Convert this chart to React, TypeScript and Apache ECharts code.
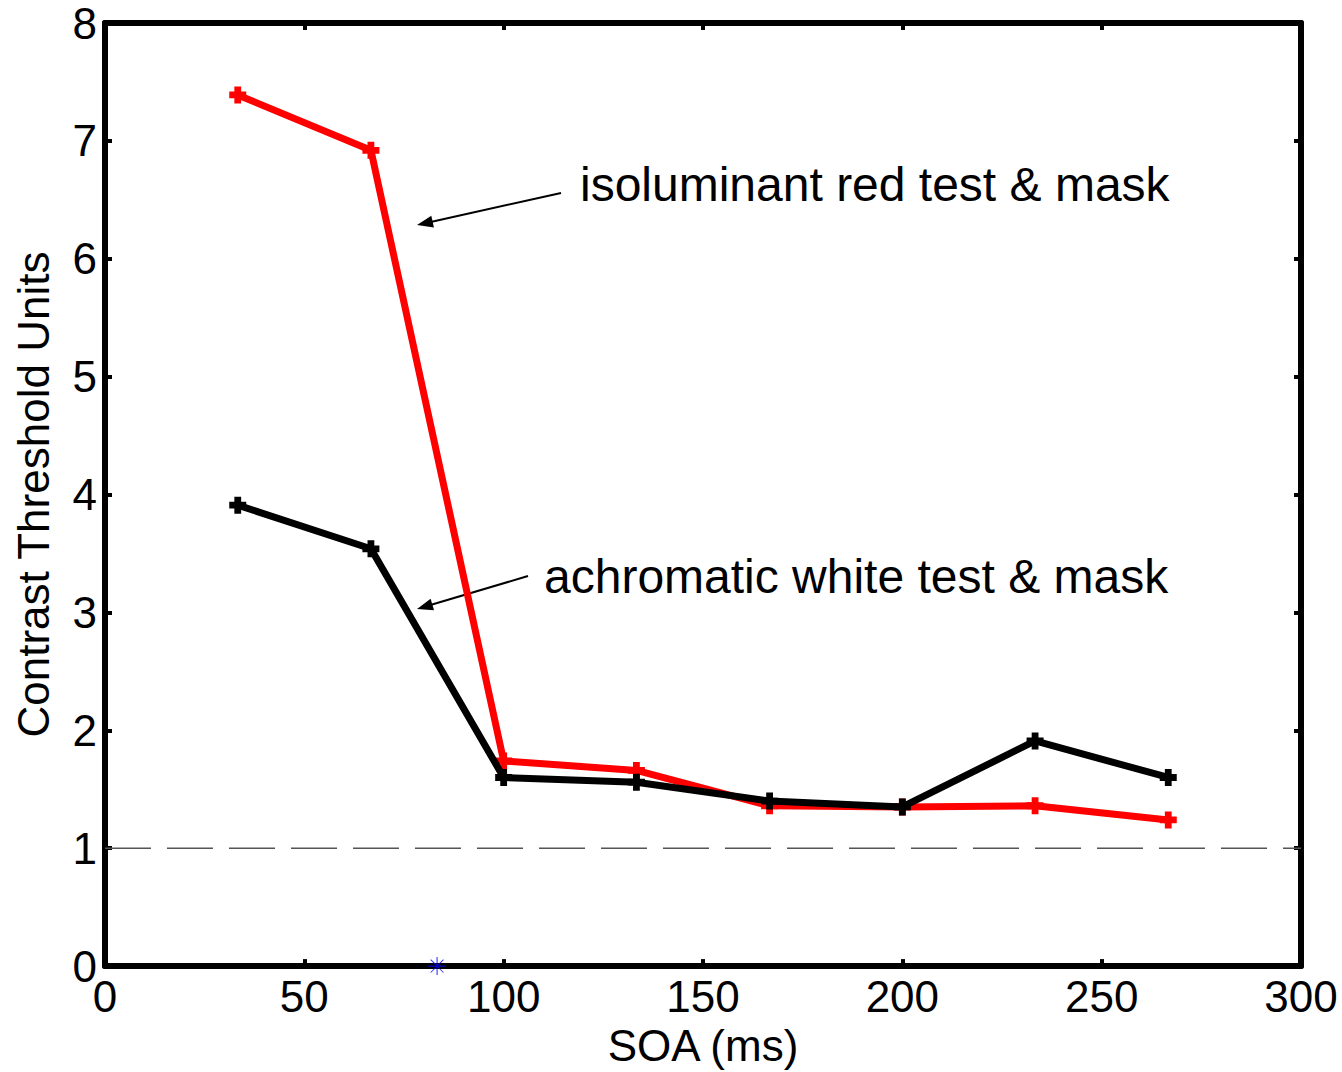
import React, { useEffect, useRef } from "react";
import * as echarts from "echarts";

const soa = [33.3, 66.7, 100, 133.3, 166.7, 200, 233.3, 266.7];
const redValues = [7.39, 6.92, 1.74, 1.66, 1.36, 1.35, 1.36, 1.24];
const blackValues = [3.91, 3.54, 1.6, 1.56, 1.4, 1.35, 1.91, 1.6];
const referenceLevel = 1;
const blueMarker = [83.3, 0];
const xTicks = [0, 300, 50];
const yTicks = [0, 8, 1];
const redLabel = "isoluminant red test & mask";
const blackLabel = "achromatic white test & mask";

const FONT = "'Liberation Sans', Arial, Helvetica, sans-serif";
const PLUS = "path://M3,0H7V3H10V7H7V10H3V7H0V3H3Z";
const STAR =
  "path://M9.4,0H10.6V8.6L16.7,2.5L17.5,3.3L11.4,9.4H20V10.6H11.4L17.5,16.7L16.7,17.5L10.6,11.4V20H9.4V11.4L3.3,17.5L2.5,16.7L8.6,10.6H0V9.4H8.6L2.5,3.3L3.3,2.5L9.4,8.6Z";

function arrow(x1: number, y1: number, x2: number, y2: number) {
  const dx = x2 - x1;
  const dy = y2 - y1;
  const len = Math.sqrt(dx * dx + dy * dy);
  const ux = dx / len;
  const uy = dy / len;
  const hl = 16;
  const hw = 6;
  const bx = x2 - ux * hl;
  const by = y2 - uy * hl;
  return [
    {
      type: "line",
      shape: { x1, y1, x2: bx + ux * 2, y2: by + uy * 2 },
      style: { stroke: "#000", lineWidth: 2 },
    },
    {
      type: "polygon",
      shape: {
        points: [
          [x2, y2],
          [bx - uy * hw, by + ux * hw],
          [bx + uy * hw, by - ux * hw],
        ],
      },
      style: { fill: "#000" },
    },
  ];
}

export default function App() {
  const ref = useRef<HTMLDivElement>(null);
  useEffect(() => {
    if (!ref.current) return;
    const chart = echarts.init(ref.current, null, { renderer: "svg" });
    const axisCommon = {
      axisLine: { show: true, onZero: false, lineStyle: { color: "#000", width: 6 } },
      axisTick: { show: true, inside: true, length: 7, lineStyle: { color: "#000", width: 4 } },
      splitLine: { show: false },
    };
    chart.setOption({
      animation: false,
      backgroundColor: "#fff",
      grid: { left: 105, right: 41, top: 23, bottom: 102 },
      xAxis: [
        {
          type: "value",
          min: xTicks[0],
          max: xTicks[1],
          interval: xTicks[2],
          position: "bottom",
          ...axisCommon,
          axisLabel: { color: "#000", fontSize: 44, fontFamily: FONT, margin: 8 },
          name: "SOA (ms)",
          nameLocation: "middle",
          nameGap: 55,
          nameTextStyle: { color: "#000", fontSize: 44, fontFamily: FONT },
        },
        {
          type: "value",
          min: xTicks[0],
          max: xTicks[1],
          interval: xTicks[2],
          position: "top",
          ...axisCommon,
          axisLabel: { show: false },
        },
      ],
      yAxis: [
        {
          type: "value",
          min: yTicks[0],
          max: yTicks[1],
          interval: yTicks[2],
          position: "left",
          ...axisCommon,
          axisLabel: { color: "#000", fontSize: 44, fontFamily: FONT, margin: 8 },
          name: "Contrast Threshold Units",
          nameLocation: "middle",
          nameGap: 50,
          nameTextStyle: { color: "#000", fontSize: 44, fontFamily: FONT },
        },
        {
          type: "value",
          min: yTicks[0],
          max: yTicks[1],
          interval: yTicks[2],
          position: "right",
          ...axisCommon,
          axisLabel: { show: false },
        },
      ],
      series: [
        {
          type: "line",
          data: [
            [xTicks[0], referenceLevel],
            [xTicks[1], referenceLevel],
          ],
          symbol: "none",
          lineStyle: { color: "#555", width: 1.5, type: [46, 16] },
          z: 1,
        },
        {
          type: "line",
          data: soa.map((x, i) => [x, redValues[i]]),
          symbol: PLUS,
          symbolSize: 17,
          itemStyle: { color: "#ff0000" },
          lineStyle: { color: "#ff0000", width: 7 },
          z: 2,
        },
        {
          type: "line",
          data: soa.map((x, i) => [x, blackValues[i]]),
          symbol: PLUS,
          symbolSize: 17,
          itemStyle: { color: "#000" },
          lineStyle: { color: "#000", width: 7 },
          z: 3,
        },
        {
          type: "scatter",
          data: [blueMarker],
          symbol: STAR,
          symbolSize: 18,
          itemStyle: { color: "#0000ff" },
          z: 10,
        },
      ],
      graphic: [
        {
          type: "text",
          left: 580,
          top: 160,
          style: { text: redLabel, fill: "#000", fontSize: 48, fontFamily: FONT },
        },
        {
          type: "text",
          left: 544,
          top: 552,
          style: { text: blackLabel, fill: "#000", fontSize: 48, fontFamily: FONT },
        },
        ...arrow(561, 193, 417, 225),
        ...arrow(528, 576, 417, 609),
      ],
    });
    return () => chart.dispose();
  }, []);
  return (
    <div
      ref={ref}
      style={{ position: "fixed", left: 0, top: 0, width: 1342, height: 1072 }}
    />
  );
}
